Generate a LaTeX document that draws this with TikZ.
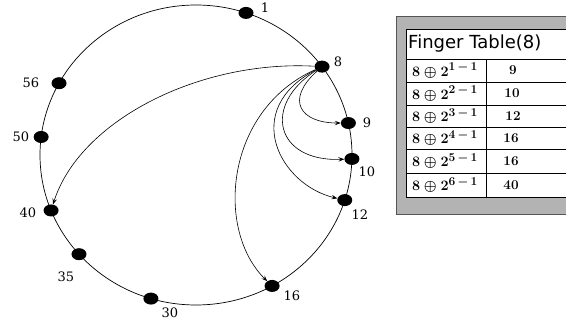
\documentclass[tikz,border=0pt]{standalone}
\usepackage{fontspec}
\usetikzlibrary{shapes.geometric,arrows.meta}
\newfontfamily\djsans{DejaVu Sans}
\newfontfamily\djserif{DejaVu Serif}
\definecolor{boxgray}{HTML}{B3B3B3}
\definecolor{boxedge}{HTML}{555555}
\DeclareMathSizes{13.5}{13.5}{11.5}{9}
\begin{document}
\begin{tikzpicture}[x=1pt,y=1pt]
\tikzset{
  dot/.style={ellipse, fill=black, minimum width=15pt, minimum height=12pt, inner sep=0pt},
  lab/.style={font=\djserif\fontsize{13}{13}\selectfont, inner sep=0pt},
  arr/.style={-{Stealth[length=6pt,width=4.5pt,inset=2.5pt]}, line width=0.6pt},
  ring/.style={line width=0.7pt},
  cell/.style={font=\fontsize{13.5}{13.5}\selectfont\bfseries\boldmath, inner sep=0pt, anchor=west},
  num/.style={font=\fontsize{13.5}{13.5}\selectfont\bfseries, inner sep=0pt}
}
\useasboundingbox (0,0) rectangle (566,-323);
\clip (0,0) rectangle (566,-323);
% ring
\coordinate (c) at (196,-155);
\draw[ring] (c) ellipse [x radius=156, y radius=150];
% dots
\begin{scope}[shift={(196,-155)}]
\node[dot] (n1) at (71.3:156 and 150) {};
\node[dot] (n8) at (36.1:156 and 150) {};
\node[dot] (n9) at (12.3:156 and 150) {};
\node[dot] (n10) at (-1.5:156 and 150) {};
\node[dot] (n12) at (-17.5:156 and 150) {};
\node[dot] (n16) at (-60.8:156 and 150) {};
\node[dot] (n30) at (-106.8:156 and 150) {};
\node[dot] (n35) at (-138.6:156 and 150) {};
\node[dot] (n40) at (-158.3:156 and 150) {};
\node[dot] (n50) at (173.1:156 and 150) {};
\node[dot] (n56) at (151.4:156 and 150) {};
\end{scope}
% labels
\node[lab] (l1) at (265,-8) {1};
\node[lab] (l8) at (338,-62) {8};
\node[lab] (l9) at (367,-123) {9};
\node[lab] (l10) at (367,-172) {10};
\node[lab] (l12) at (360,-215) {12};
\node[lab] (l16) at (292,-296) {16};
\node[lab] (l30) at (170,-313) {30};
\node[lab] (l35) at (66,-277) {35};
\node[lab] (l40) at (28,-213) {40};
\node[lab] (l50) at (21,-137) {50};
\node[lab] (l56) at (31,-83) {56};
% arrows
\draw[arr] (n8) .. controls (285,-100) and (300,-123) .. (n9);
\draw[arr] (n8) .. controls (262,-105) and (275,-162) .. (n10);
\draw[arr] (n8) .. controls (240,-110) and (280,-185) .. (n12);
\draw[arr] (n8) .. controls (225,-110) and (215,-230) .. (n16);
\draw[arr] (n8) .. controls (200,-60) and (80,-120) .. (n40);
% finger table
\draw[fill=boxgray, draw=boxedge, line width=1pt] (396,-17) rectangle (590,-215);
\draw[fill=white, line width=0.8pt] (406,-29) rectangle (590,-197);
\foreach \yy in {59,82,105,127,149,173}{\draw[line width=0.8pt] (406,-\yy) -- (590,-\yy);}
\draw[line width=0.8pt] (486,-59) -- (486,-197);
\node[font=\djsans\fontsize{18}{18}\selectfont, anchor=west, inner sep=0pt] (title) at (408,-44) {Finger Table(8)};
\node[cell] (a1) at (412,-70.5) {$8\oplus2^{1\,-\,1}$};
\node[cell] (a2) at (412,-93.5) {$8\oplus2^{2\,-\,1}$};
\node[cell] (a3) at (412,-116) {$8\oplus2^{3\,-\,1}$};
\node[cell] (a4) at (412,-138) {$8\oplus2^{4\,-\,1}$};
\node[cell] (a5) at (412,-161) {$8\oplus2^{5\,-\,1}$};
\node[cell] (a6) at (412,-185) {$8\oplus2^{6\,-\,1}$};
\node[num] (b1) at (513,-70.5) {9};
\node[num] (b2) at (512,-93.5) {10};
\node[num] (b3) at (513,-116) {12};
\node[num] (b4) at (511,-138) {16};
\node[num] (b5) at (511,-161) {16};
\node[num] (b6) at (511,-185) {40};
\end{tikzpicture}
\end{document}
